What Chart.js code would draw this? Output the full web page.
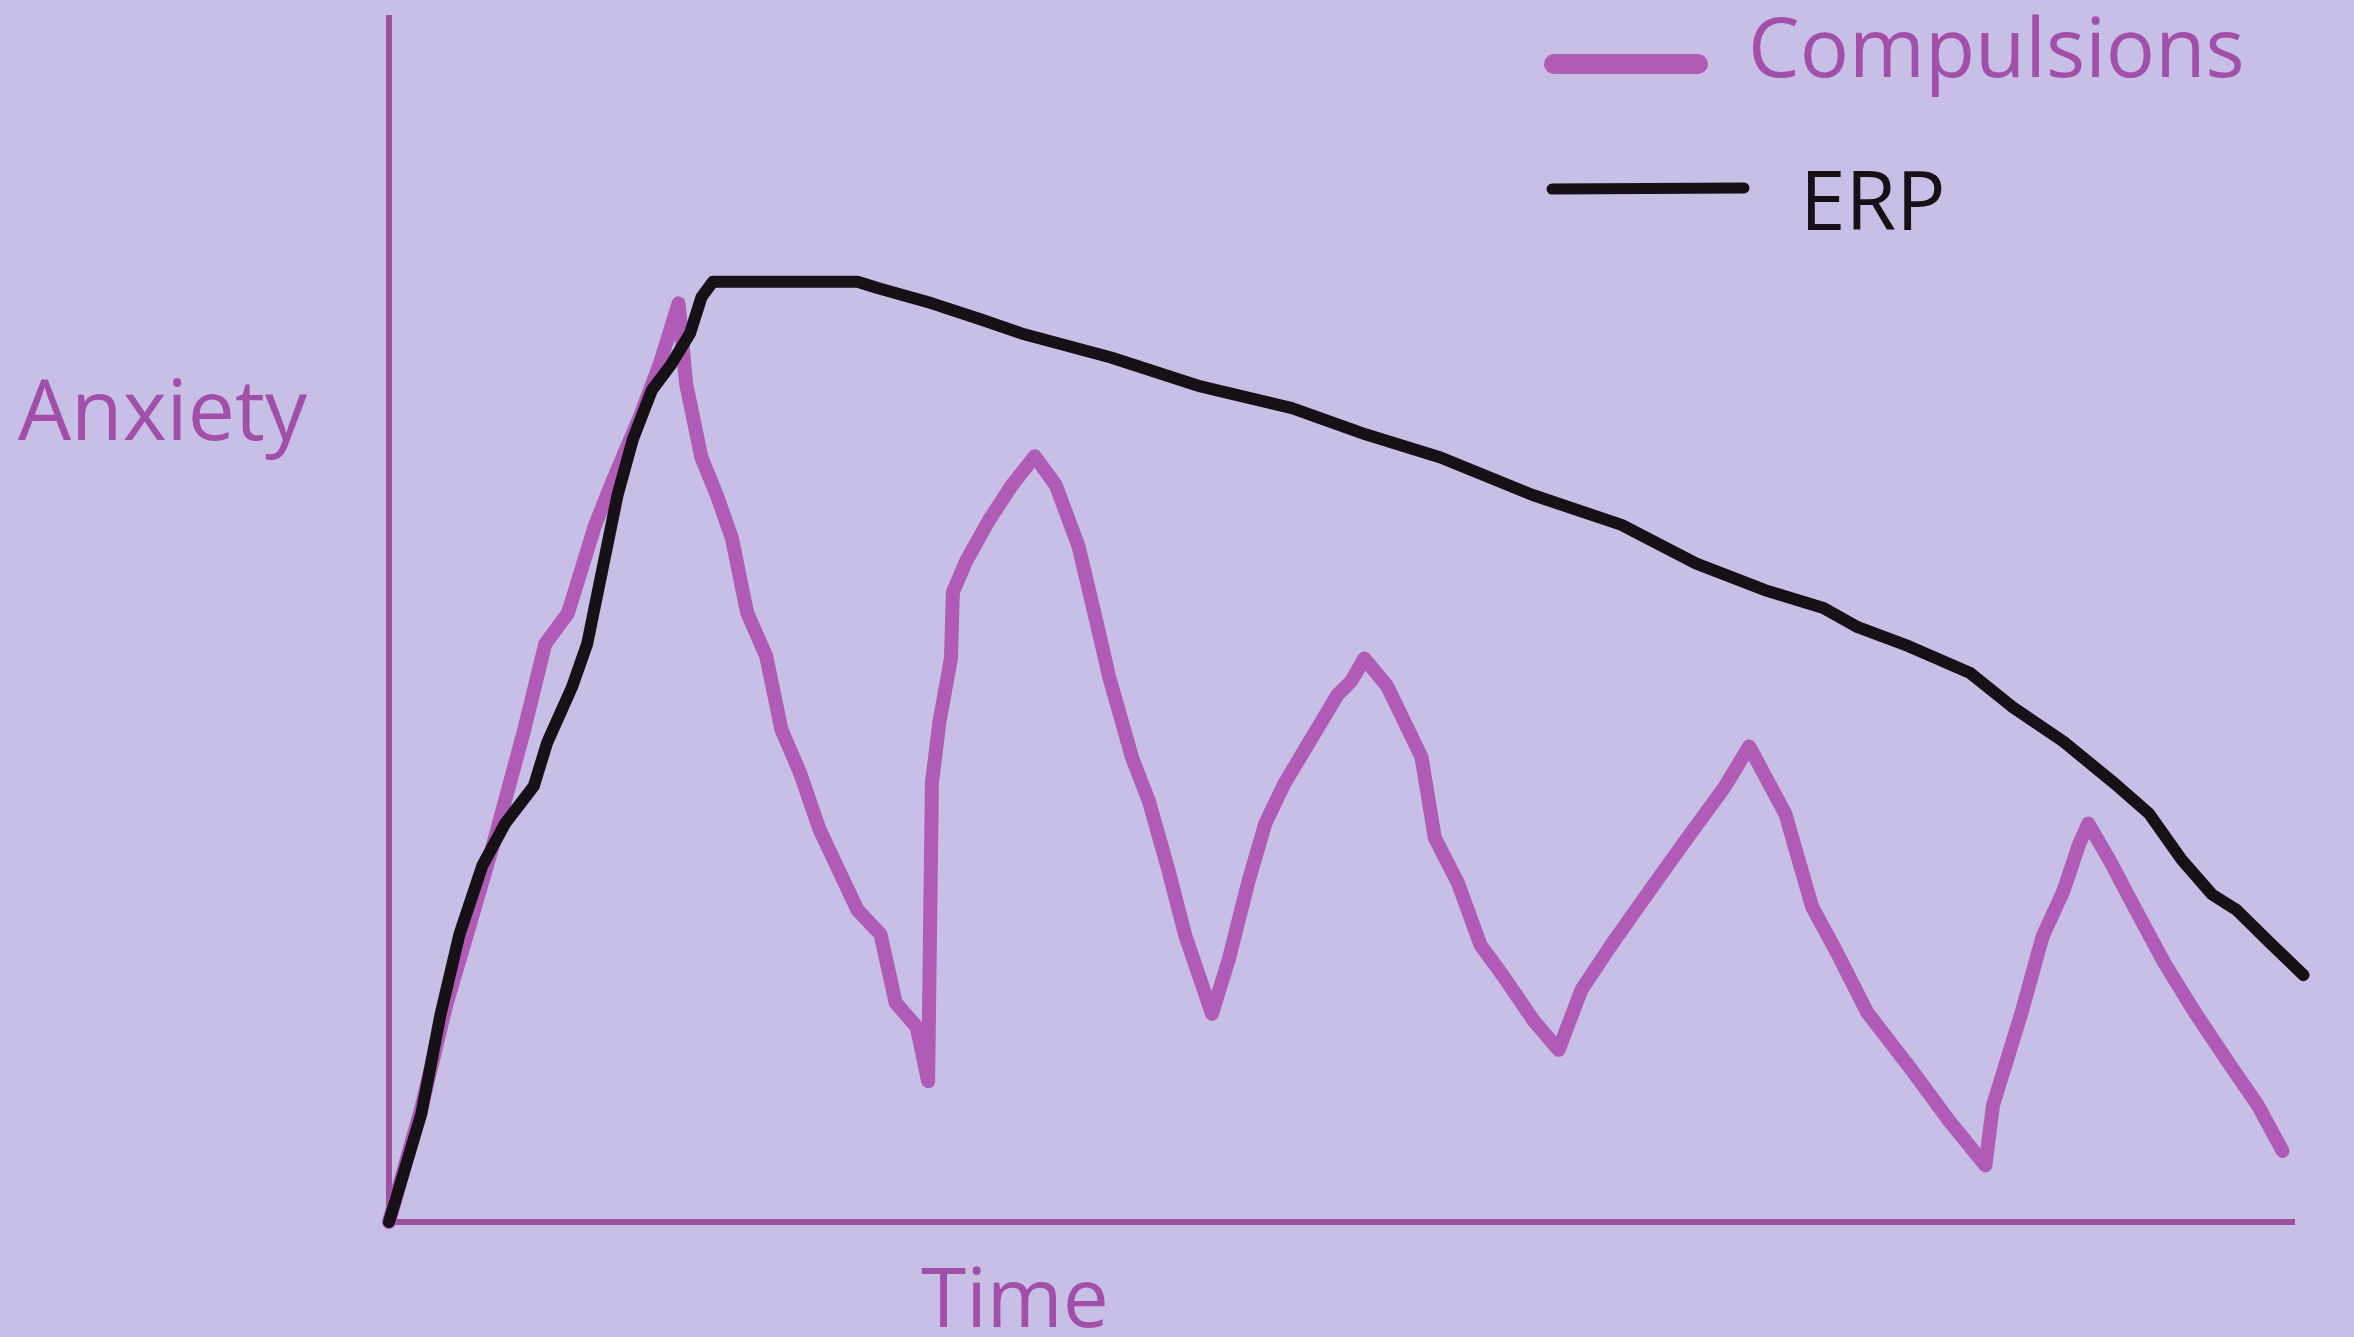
<!DOCTYPE html>
<html lang="en">

<head>
    <meta charset="UTF-8">
    <title>Anxiety over time: Compulsions vs ERP</title>
    <script src="https://cdn.jsdelivr.net/npm/chart.js"></script>
    <style>
        html, body {
            margin: 0;
            padding: 0;
            background: #c8bfe6;
            overflow: hidden;
        }

        .chart-box {
            position: relative;
            width: 2354px;
            height: 1337px;
        }
    </style>
</head>

<body>
    <div class="chart-box">
        <canvas id="anxietyChart"></canvas>
    </div>

    <script>
        // values (time 0-100 along the axis, anxiety 0-100)
        const compulsionsTime = [0, 1.7, 3.0, 4.3, 5.6, 7.1, 8.2, 9.4, 10.2, 10.8, 11.7, 13.2, 14.2, 15.2, 15.6, 16.4, 17.2, 18.0, 18.8, 19.8,
            20.6, 21.6, 22.6, 24.6, 25.8, 26.6, 27.7, 28.3, 28.5, 28.9, 29.5, 29.6, 30.3, 31.5, 32.7, 33.9, 35.0, 36.2, 37.1, 37.8,
            39.0, 39.9, 40.9, 41.8, 43.2, 44.1, 45.1, 46.0, 47.0, 48.4, 49.8, 50.5, 51.2, 52.4, 53.5, 54.2, 54.9, 56.1, 57.3, 58.5,
            60.1, 61.4, 62.6, 64.2, 66.3, 68.2, 70.1, 71.4, 73.3, 74.7, 76.0, 77.6, 79.8, 81.9, 83.8, 84.2, 85.7, 86.8, 87.9, 88.7,
            89.2, 90.3, 91.6, 93.2, 94.8, 96.7, 98.1, 99.4];
        const compulsionsAnxiety = [0, 9.5, 18, 25, 32.1, 40.9, 48.0, 50.6, 54.7, 57.8, 61.4, 67.0, 71.2, 76.3, 69.6, 63.5, 60.4, 56.8, 50.6, 47.0,
            40.9, 37.2, 32.6, 25.9, 23.9, 18.2, 16.2, 11.7, 36.5, 41.6, 46.8, 52.3, 54.9, 58.3, 61.2, 63.6, 61.2, 56.1, 50.1, 45.3,
            38.6, 34.9, 29.3, 23.8, 17.3, 21.9, 28.2, 33.1, 36.4, 40.1, 43.8, 44.9, 46.8, 44.5, 40.9, 38.6, 31.9, 28.2, 23.0, 20.4,
            16.7, 14.3, 19.3, 23.1, 27.8, 32.0, 36.1, 39.5, 33.9, 26.2, 22.4, 17.4, 12.9, 8.4, 4.7, 9.7, 17.4, 23.7, 27.5, 31.3,
            33.1, 30.1, 26.2, 21.5, 17.4, 12.9, 9.7, 5.9];

        const erpTime = [0, 1.7, 2.7, 3.7, 4.9, 6.1, 7.6, 8.3, 9.6, 10.4, 11.2, 12.0, 12.8, 13.8, 14.8, 15.8, 16.4, 17.0, 24.6, 25.6,
            28.5, 31.0, 33.2, 37.9, 42.6, 47.4, 51.3, 55.2, 60.0, 64.7, 68.6, 72.2, 75.3, 77.1, 79.8, 83.0, 85.2, 87.9, 90.6, 92.4,
            94.1, 95.7, 97.0, 98.6, 100.5, 102.5];
        const erpAnxiety = [0, 9.0, 17.2, 23.9, 29.6, 33.1, 36.2, 39.8, 44.4, 48.0, 54.2, 60.4, 65.0, 69.1, 71.2, 73.8, 76.8, 78.1, 78.1, 77.6,
            76.3, 75.0, 73.8, 71.8, 69.4, 67.6, 65.4, 63.5, 60.4, 57.9, 54.7, 52.5, 51.0, 49.4, 47.8, 45.6, 42.8, 39.9, 36.4, 33.9,
            30.1, 27.2, 25.9, 23.4, 20.5, 17.2];

        const seriesLabels = ['Compulsions', 'ERP'];
        const xAxisLabel = 'Time';
        const yAxisLabel = 'Anxiety';

        const pink = '#b05bb5';
        const axisPurple = '#9d4fa0';
        const textPurple = '#a24fa9';
        const ink = '#151116';

        const toPoints = (xs, ys) => xs.map((x, i) => ({ x: x, y: ys[i] }));

        // axis names + hand-drawn style legend, drawn straight on the canvas
        const sketchLabels = {
            id: 'sketchLabels',
            afterDraw(chart) {
                const ctx = chart.ctx;
                ctx.save();
                ctx.textBaseline = 'alphabetic';
                ctx.textAlign = 'left';
                ctx.fillStyle = textPurple;
                ctx.font = '84px "Open Sans"';
                ctx.fillText(yAxisLabel, 18, 440);
                ctx.font = '82px "Open Sans"';
                ctx.fillText(xAxisLabel, 921, 1327);

                // legend
                ctx.lineCap = 'round';
                ctx.strokeStyle = chart.data.datasets[0].borderColor;
                ctx.lineWidth = 20;
                ctx.beginPath();
                ctx.moveTo(1554, 64);
                ctx.lineTo(1698, 64);
                ctx.stroke();
                ctx.fillText(chart.data.datasets[0].label, 1748, 77);

                ctx.strokeStyle = chart.data.datasets[1].borderColor;
                ctx.lineWidth = 11;
                ctx.beginPath();
                ctx.moveTo(1552, 189);
                ctx.lineTo(1744, 188);
                ctx.stroke();
                ctx.fillStyle = ink;
                ctx.fillText(chart.data.datasets[1].label, 1800, 230);
                ctx.restore();
            }
        };

        const ctx = document.getElementById('anxietyChart').getContext('2d');
        new Chart(ctx, {
            type: 'line',
            data: {
                datasets: [{
                    label: seriesLabels[0],
                    data: toPoints(compulsionsTime, compulsionsAnxiety),
                    borderColor: pink,
                    borderWidth: 14,
                    pointRadius: 0,
                    borderJoinStyle: 'round',
                    borderCapStyle: 'round',
                    tension: 0,
                    clip: false,
                    order: 2
                }, {
                    label: seriesLabels[1],
                    data: toPoints(erpTime, erpAnxiety),
                    borderColor: ink,
                    borderWidth: 12,
                    pointRadius: 0,
                    borderJoinStyle: 'round',
                    borderCapStyle: 'round',
                    tension: 0,
                    clip: false,
                    order: 1
                }]
            },
            options: {
                responsive: true,
                maintainAspectRatio: false,
                animation: false,
                layout: {
                    padding: { left: 389, right: 60, top: 18, bottom: 115 }
                },
                plugins: {
                    legend: { display: false },
                    tooltip: { enabled: false }
                },
                scales: {
                    x: {
                        type: 'linear',
                        min: 0,
                        max: 100,
                        ticks: { display: false },
                        grid: { display: false, drawTicks: false },
                        border: { display: true, color: axisPurple, width: 6 }
                    },
                    y: {
                        min: 0,
                        max: 100,
                        ticks: { display: false },
                        grid: { display: false, drawTicks: false },
                        border: { display: true, color: axisPurple, width: 6 }
                    }
                }
            },
            plugins: [sketchLabels]
        });
    </script>
</body>

</html>
